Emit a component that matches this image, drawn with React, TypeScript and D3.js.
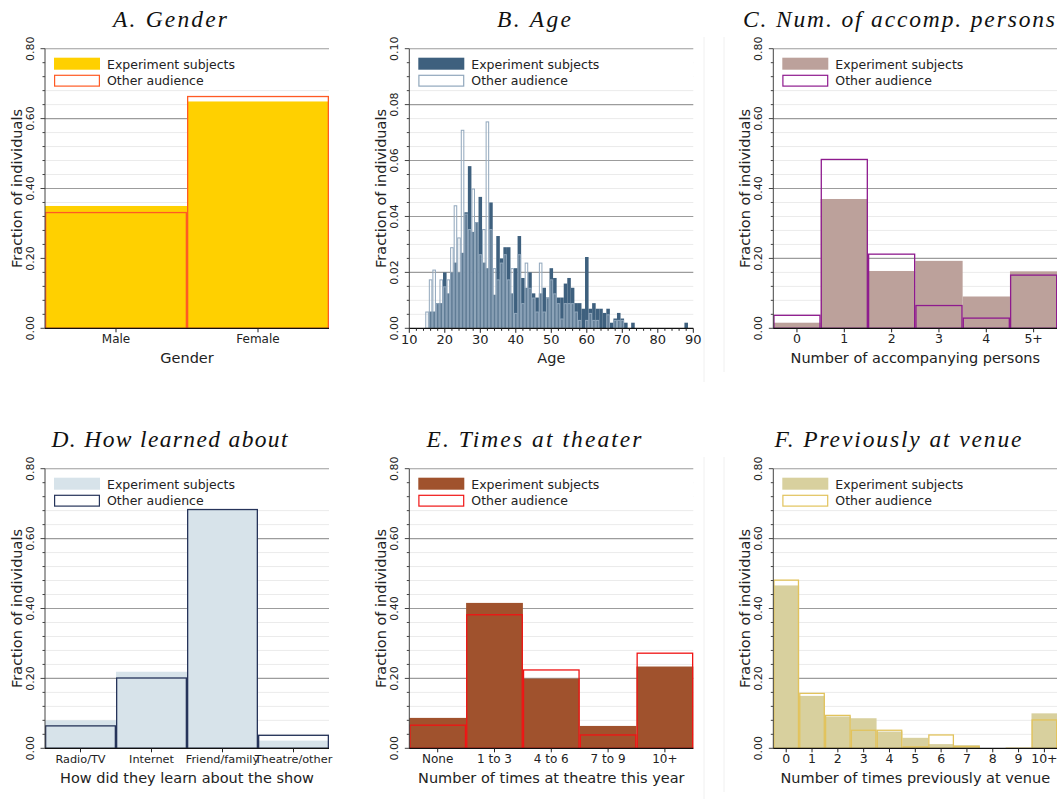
import React from 'react';
import * as d3 from 'd3';

// panel A
const genderCats = ['Male', 'Female'];
const genderExp = [0.35, 0.649];
const genderOther = [0.333, 0.665];

// panel B (fraction per year of age)
const ageYears = [15, 16, 17, 18, 19, 20, 21, 22, 23, 24, 25, 26, 27, 28, 29, 30, 31, 32, 33, 34, 35, 36, 37, 38, 39, 40,
  41, 42, 43, 44, 45, 46, 47, 48, 49, 50, 51, 52, 53, 54, 55, 56, 57, 58, 59, 60, 61, 62, 63, 64, 65, 66, 67, 68, 69, 70,
  71, 73, 88];
const ageExp = [0, 0.006, 0.006, 0.009, 0.009, 0.02, 0.0125, 0.02, 0.0235, 0.02, 0.027, 0.0415, 0.058, 0.0345, 0.038, 0.047,
  0.0235, 0.0215, 0.045, 0.012, 0.033, 0.025, 0.029, 0.029, 0.0125, 0.0215,
  0.033, 0.018, 0.0145, 0.02, 0.0125, 0.011, 0.0125, 0.0145, 0.011, 0.0215, 0.018, 0.011, 0.011, 0.016, 0.018, 0.0145,
  0.009, 0.009, 0.007, 0.0255, 0.007, 0.009, 0.007, 0.007, 0.0055, 0.007, 0.002, 0.0035, 0.0055, 0.0035,
  0.002, 0.002, 0.002];
const ageOther = [0.006, 0.0175, 0.021, 0.009, 0.0175, 0.015, 0.0175, 0.029, 0.044, 0.0325, 0.071, 0.041, 0.0355, 0.05, 0.038,
  0.0265, 0.0355, 0.074, 0.0355, 0.0215, 0.0175, 0.0235, 0.0265, 0.0175, 0.0215, 0.0055,
  0.0265, 0.009, 0.0235, 0.0145, 0.011, 0.006, 0.0235, 0.006, 0.011, 0.0175, 0.0125, 0.009, 0.0035, 0.009, 0.009, 0.009,
  0.006, 0.003, 0, 0.003, 0.0055, 0.003, 0.003, 0, 0, 0.005, 0, 0.003, 0.003, 0.003,
  0, 0, 0];
const ageTicks = [10, 20, 30, 40, 50, 60, 70, 80, 90];

// panel C
const accompCats = ['0', '1', '2', '3', '4', '5+'];
const accompExp = [0.016, 0.37, 0.164, 0.193, 0.091, 0.163];
const accompOther = [0.039, 0.485, 0.214, 0.067, 0.031, 0.154];

// panel D
const learnCats = ['Radio/TV', 'Internet', 'Friend/family', 'Theatre/other'];
const learnExp = [0.08, 0.219, 0.684, 0.022];
const learnOther = [0.066, 0.203, 0.685, 0.039];

// panel E
const timesCats = ['None', '1 to 3', '4 to 6', '7 to 9', '10+'];
const timesExp = [0.087, 0.416, 0.1995, 0.064, 0.234];
const timesOther = [0.068, 0.384, 0.226, 0.04, 0.274];

// panel F
const venueCats = ['0', '1', '2', '3', '4', '5', '6', '7', '8', '9', '10+'];
const venueExp = [0.466, 0.15, 0.091, 0.086, 0.048, 0.03, 0.012, 0.009, 0, 0, 0.1];
const venueOther = [0.483, 0.159, 0.096, 0.0535, 0.0535, 0.006, 0.04, 0.007, 0, 0.002, 0.083];

const shareTicks = [0, 0.2, 0.4, 0.6, 0.8];
const ageShareTicks = [0, 0.02, 0.04, 0.06, 0.08, 0.1];

const SANS = 'DejaVu Sans';

type PanelProps = {
  left: number; top: number;
  title: string; titleX: number; titleW: number;
  xTitle: string;
  cats?: string[];
  years?: number[]; xDomain?: [number, number]; xTicks?: number[];
  exp: number[]; other: number[];
  yTicks: number[]; yMinor: number;
  expColor: string; otherColor: string; otherFill?: string; otherWidth?: number;
  tickFont?: number;
};

function Panel(p: PanelProps) {
  const W = 284, H = 279.6;
  const { left, top } = p;
  const right = left + W, bottom = top + H;
  const yMax = p.yTicks[p.yTicks.length - 1];
  const y = d3.scaleLinear().domain([0, yMax]).range([bottom, top]);
  const minors = d3.range(0, yMax + 1e-9, p.yMinor).filter(v => !p.yTicks.some(t => Math.abs(t - v) < 1e-9));
  const yFmt = d3.format('.2f');
  const sw = p.otherWidth ?? 1.3;

  let bars: { x0: number; x1: number; e: number; o: number }[] = [];
  let xTickEls: React.ReactNode[] = [];
  if (p.cats) {
    const band = d3.scaleBand<string>().domain(p.cats).range([left, right]).padding(0);
    bars = p.cats.map((c, i) => ({ x0: band(c)!, x1: band(c)! + band.bandwidth(), e: p.exp[i], o: p.other[i] }));
    xTickEls = p.cats.map(c => {
      const cx = band(c)! + band.bandwidth() / 2;
      return (
        <g key={c}>
          <line x1={cx} x2={cx} y1={bottom} y2={bottom + 4} stroke="#222" />
          <text x={cx} y={bottom + 15} textAnchor="middle" fontSize={p.tickFont ?? 12} fill="#222">{c}</text>
        </g>
      );
    });
  } else if (p.years && p.xDomain && p.xTicks) {
    const xs = d3.scaleLinear().domain(p.xDomain).range([left, right]);
    bars = p.years.map((yr, i) => ({ x0: xs(yr - 0.5), x1: xs(yr + 0.5), e: p.exp[i], o: p.other[i] }));
    const minorX = d3.range(p.xDomain[0], p.xDomain[1] + 1e-9, 2).filter(v => !p.xTicks!.includes(v));
    xTickEls = [
      ...minorX.map(v => <line key={'m' + v} x1={xs(v)} x2={xs(v)} y1={bottom} y2={bottom + 2.5} stroke="#222" />),
      ...p.xTicks.map(v => (
        <g key={'t' + v}>
          <line x1={xs(v)} x2={xs(v)} y1={bottom} y2={bottom + 4.5} stroke="#222" />
          <text x={xs(v)} y={bottom + 16} textAnchor="middle" fontSize={p.tickFont ?? 13} fill="#222">{v}</text>
        </g>
      )),
    ];
  }

  return (
    <g fontFamily={SANS}>
      <text x={p.titleX} y={top - 22} textAnchor="middle" fontFamily="Liberation Serif" fontStyle="italic"
        fontSize={23.5} fill="#111" textLength={p.titleW} lengthAdjust="spacing">{p.title}</text>

      {minors.map(v => (
        <line key={'g' + v} x1={left} x2={right} y1={y(v)} y2={y(v)} stroke="#ebebeb" strokeWidth={1} />
      ))}
      {p.yTicks.filter(v => v > 0).map(v => (
        <line key={'G' + v} x1={left} x2={right} y1={y(v)} y2={y(v)} stroke="#9c9c9c" strokeWidth={1.1} />
      ))}

      {/* legend background */}
      <rect x={left + 1} y={top + 4} width={W - 1} height={36} fill="#fff" />

      {bars.map((b, i) => b.e > 0 ? (
        <rect key={'e' + i} x={b.x0} y={y(b.e)} width={b.x1 - b.x0} height={bottom - y(b.e)} fill={p.expColor} />
      ) : null)}
      {bars.map((b, i) => b.o > 0 ? (
        <rect key={'o' + i} x={b.x0 + sw / 2} y={y(b.o) + sw / 2} width={Math.max(0, b.x1 - b.x0 - sw)}
          height={Math.max(0, bottom - y(b.o) - sw / 2)} fill={p.otherFill ?? 'none'} stroke={p.otherColor} strokeWidth={sw} />
      ) : null)}

      {/* legend */}
      <rect x={left + 9} y={top + 9} width={46} height={12} fill={p.expColor} />
      <rect x={left + 9.6} y={top + 26.6} width={44.8} height={10.8} fill="#fff" stroke={p.otherColor} strokeWidth={1.2} />
      <text x={left + 62} y={top + 20} fontSize={12.5} fill="#222">Experiment subjects</text>
      <text x={left + 62} y={top + 36.5} fontSize={12.5} fill="#222">Other audience</text>

      {/* y axis */}
      <line x1={left} x2={left} y1={top} y2={bottom} stroke="#444" strokeWidth={1} />
      {minors.map(v => (
        <line key={'mt' + v} x1={left - 2.5} x2={left} y1={y(v)} y2={y(v)} stroke="#444" />
      ))}
      {p.yTicks.map(v => (
        <g key={'yt' + v}>
          <line x1={left - 4.5} x2={left} y1={y(v)} y2={y(v)} stroke="#444" />
          <text transform={`translate(${left - 11},${y(v)}) rotate(-90)`} textAnchor="middle" fontSize={11} fill="#222">
            {yFmt(v)}
          </text>
        </g>
      ))}
      <text transform={`translate(${left - 23.5},${(top + bottom) / 2}) rotate(-90)`} textAnchor="middle" fontSize={14.5}
        fill="#222">Fraction of individuals</text>

      {/* x axis */}
      <line x1={left} x2={right} y1={bottom} y2={bottom} stroke="#111" strokeWidth={1.3} />
      {xTickEls}
      <text x={(left + right) / 2} y={bottom + 34.5} textAnchor="middle" fontSize={14.5} fill="#222">{p.xTitle}</text>
    </g>
  );
}

export default function App() {
  const row1 = 48.7, row2 = 468.7;
  return (
    <svg width={1057} height={799} style={{ position: 'absolute', left: 0, top: 0, background: '#fff' }}>
      <rect width={1057} height={799} fill="#fff" />
      {[37, 457].map(y0 => (
        <g key={y0}>
          <line x1={704} x2={704} y1={y0} y2={y0 + 345} stroke="#f0f0f0" />
          <line x1={724} x2={724} y1={y0} y2={y0 + 335} stroke="#f0f0f0" />
        </g>
      ))}
      <Panel left={45} top={row1} title="A. Gender" titleX={170} titleW={114} xTitle="Gender"
        cats={genderCats} exp={genderExp} other={genderOther} yTicks={shareTicks} yMinor={0.04}
        expColor="#ffd000" otherColor="#ff5a24" />
      <Panel left={409.3} top={row1} title="B. Age" titleX={534} titleW={74} xTitle="Age"
        years={ageYears} xDomain={[10, 90]} xTicks={ageTicks} exp={ageExp} other={ageOther}
        yTicks={ageShareTicks} yMinor={0.005} expColor="#3e607e" otherColor="#91a7bc"
        otherFill="rgba(255,255,255,0.18)" otherWidth={1} />
      <Panel left={773.3} top={row1} title="C. Num. of accomp. persons" titleX={899} titleW={312}
        xTitle="Number of accompanying persons" cats={accompCats} exp={accompExp} other={accompOther}
        yTicks={shareTicks} yMinor={0.04} expColor="#bca19b" otherColor="#8e1a8e" tickFont={12.5} />
      <Panel left={45} top={row2} title="D. How learned about" titleX={169.5} titleW={236}
        xTitle="How did they learn about the show" cats={learnCats} exp={learnExp} other={learnOther}
        yTicks={shareTicks} yMinor={0.04} expColor="#d7e3ea" otherColor="#26345a" tickFont={11.3} />
      <Panel left={409.3} top={row2} title="E. Times at theater" titleX={534} titleW={215}
        xTitle="Number of times at theatre this year" cats={timesCats} exp={timesExp} other={timesOther}
        yTicks={shareTicks} yMinor={0.04} expColor="#a0522d" otherColor="#f01414" />
      <Panel left={773.3} top={row2} title="F. Previously at venue" titleX={898} titleW={247}
        xTitle="Number of times previously at venue" cats={venueCats} exp={venueExp} other={venueOther}
        yTicks={shareTicks} yMinor={0.04} expColor="#d8d09e" otherColor="#e2c35c" tickFont={12.5} />
    </svg>
  );
}
